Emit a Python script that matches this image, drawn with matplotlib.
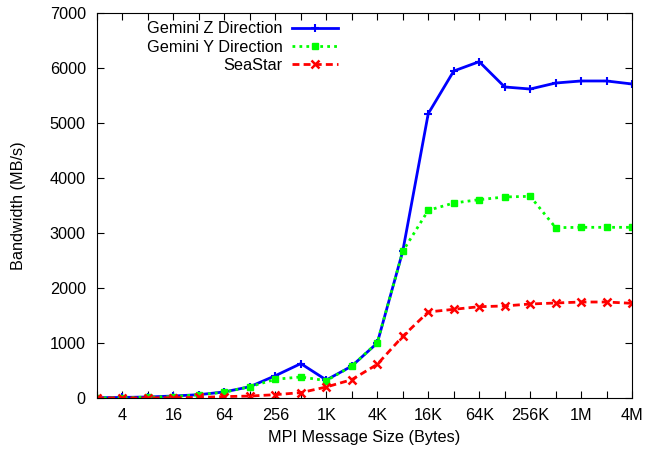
import matplotlib
matplotlib.use("Agg")
import matplotlib.pyplot as plt

plt.rcParams["font.family"] = ["Liberation Sans", "DejaVu Sans"]

# --- Data ---
exponents = list(range(1, 23))  # message sizes 2^1 .. 2^22 bytes
sizes = [2 ** e for e in exponents]
gemini_z = [5, 10, 18, 36, 60, 110, 205, 405, 625, 327, 580, 1000,
            2670, 5170, 5945, 6115, 5655, 5618, 5727, 5764, 5764, 5709]
gemini_y = [0, 5, 15, 25, 60, 105, 205, 340, 382, 315, 580, 1006,
            2667, 3412, 3545, 3606, 3655, 3667, 3097, 3103, 3103, 3103]
seastar = [0, 0, 0, 5, 10, 25, 35, 60, 97, 200, 333, 612,
           1121, 1564, 1612, 1660, 1673, 1709, 1727, 1745, 1745, 1721]
tick_labels = ["4", "16", "64", "256", "1K", "4K", "16K", "64K", "256K", "1M", "4M"]

FS = 11.7

# --- Plot ---
fig = plt.figure(figsize=(6.53, 4.5), dpi=100)
ax = fig.add_axes([0.1485, 0.1156, 0.8195, 0.8555])

ax.plot(sizes, gemini_z, color="#0000ff", lw=2, marker="+", ms=6, mew=1.5,
        label="Gemini Z Direction")
ax.plot(sizes, gemini_y, color="#00ff00", lw=2, ls=(0, (1, 1.5)), marker="s", ms=5,
        label="Gemini Y Direction")
ax.plot(sizes, seastar, color="#ff0000", lw=2, ls=(0, (2.5, 1.5)), marker="x", ms=5.5, mew=1.8,
        label="SeaStar")

ax.set_xscale("log", base=2)
ax.set_xlim(sizes[0], sizes[-1])
ax.set_ylim(0, 7000)

# ticks at every power of two, labels on every other one
ax.set_xticks(sizes)
ax.set_xticklabels(["" if e % 2 else tick_labels[e // 2 - 1] for e in exponents])
ax.minorticks_off()
ax.set_yticks(range(0, 7001, 1000))
ax.tick_params(direction="in", top=True, right=True, length=5, labelsize=FS)
ax.tick_params(axis="y", pad=8)
ax.tick_params(axis="x", pad=7)

ax.set_xlabel("MPI Message Size (Bytes)", fontsize=FS, labelpad=5)
ax.set_ylabel("Bandwidth (MB/s)", fontsize=FS, labelpad=17)

ax.legend(loc="upper right", bbox_to_anchor=(0.462, 0.995), frameon=False, markerfirst=False,
          fontsize=FS, handlelength=2.8, handletextpad=0.6, labelspacing=0.2,
          borderaxespad=0, borderpad=0.4)

fig.savefig("out.png", dpi=100)
